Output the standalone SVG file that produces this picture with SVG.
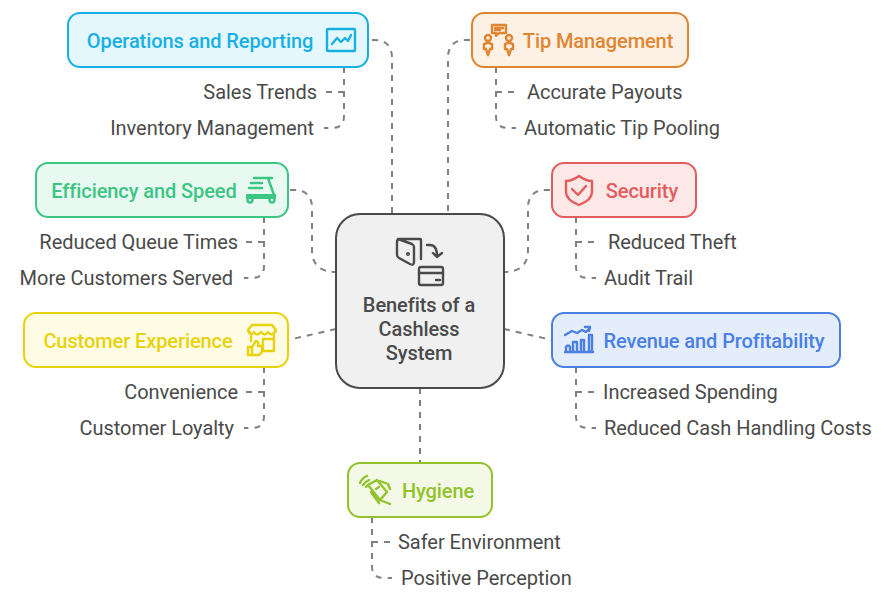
<svg xmlns="http://www.w3.org/2000/svg" width="888" height="601" viewBox="0 0 888 601">
<style>
text{font-family:Roboto,"Liberation Sans",sans-serif}
.n{stroke-width:2}
.t{font-size:20px;font-weight:500;text-anchor:middle;letter-spacing:-.09px}
.l{font-size:20px;fill:#4a4a4a;letter-spacing:-.04px}
.e{text-anchor:end}
.c{fill:none;stroke:#808080;stroke-width:2;stroke-dasharray:6 6}
.i{fill:none;stroke-width:2.400;stroke-linecap:round;stroke-linejoin:round}
</style>
<rect width="888" height="601" fill="#fff"/>
<g id="connectors">
<path class="c" d="M372 40H374Q392 40 392 58V214"/>
<path class="c" d="M470 40H466Q448 40 448 58V214"/>
<path class="c" d="M290 190H294Q312 190 312 208V250Q312 272 336 272"/>
<path class="c" d="M550 190H546Q528 190 528 208V250Q528 272 504 272"/>
<path class="c" d="M336 329L288 340"/>
<path class="c" d="M504 329L552 340"/>
<path class="c" d="M420 388V463"/>
<path class="c" d="M344 67V116Q344 128 332 128H324"/>
<path class="c" d="M344 92H326"/>
<path class="c" d="M264 217V266Q264 278 252 278H244"/>
<path class="c" d="M264 242H246"/>
<path class="c" d="M264 367V416Q264 428 252 428H244"/>
<path class="c" d="M264 392H246"/>
<path class="c" d="M496 67V116Q496 128 508 128H516"/>
<path class="c" d="M496 92H514"/>
<path class="c" d="M576 217V266Q576 278 588 278H596"/>
<path class="c" d="M576 242H598"/>
<path class="c" d="M576 367V416Q576 428 588 428H596"/>
<path class="c" d="M576 392H594"/>
<path class="c" d="M372 517V566Q372 578 384 578H392"/>
<path class="c" d="M372 542H390"/>
</g>
<g id="center">
<rect x="336" y="214" width="168" height="174" rx="24" fill="#f0f0f0" stroke="#4a4a4a" stroke-width="2"/>
<g class="i" stroke="#4a4a4a">
<path d="M421 259V240Q421 239 420 239H400Q397 239 397 242V255Q397 257 399 258L410 264Q414 266 414 262V247Q414 245 412 244L398 239"/>
<circle cx="408" cy="254" r=".8" fill="#4a4a4a"/>
<path d="M427 245H430Q437 245 437 256M433 253L437 257L442 253"/>
<rect x="419" y="267" width="24" height="18" rx="2"/>
<path d="M419 273H443M436 280H440"/>
</g>
<text class="t" fill="#4a4a4a"><tspan x="419" y="312">Benefits of a</tspan><tspan x="419" y="336">Cashless</tspan><tspan x="419" y="360">System</tspan></text>
</g>
<g id="operations">
<rect class="n" x="68" y="13" width="300" height="54" rx="12" fill="#e3f7fd" stroke="#18b0e4"/>
<text class="t" x="200" y="48" fill="#18b0e4">Operations and Reporting</text>
<g class="i" stroke="#18b0e4"><rect x="327" y="29" width="28" height="22" rx="1"/><path d="M332 44L337 38L341 42L345 38L348 41L351 35"/></g>
<text class="l e" x="317" y="99">Sales Trends</text>
<text class="l e" x="314" y="135">Inventory Management</text>
</g>
<g id="efficiency">
<rect class="n" x="36" y="163" width="252" height="54" rx="12" fill="#e8f9f1" stroke="#3cc583"/>
<text class="t" x="144" y="198" fill="#3cc583">Efficiency and Speed</text>
<g class="i" stroke="#3cc583"><path d="M263 178H272M268 178L274 195M254 178H262M251 183H262M249 188H262M248 196H274"/><path d="M247 195H275V198H247Z" stroke-width="2"/><circle cx="250" cy="200" r="2.500"/><circle cx="272" cy="200" r="2.500"/></g>
<text class="l e" x="238" y="249">Reduced Queue Times</text>
<text class="l e" x="233" y="285">More Customers Served</text>
</g>
<g id="customer">
<rect class="n" x="24" y="313" width="264" height="54" rx="12" fill="#fefce4" stroke="#e8d20c"/>
<text class="t" x="138" y="348" fill="#e8d20c">Customer Experience</text>
<g class="i" stroke="#e8d20c"><path d="M250 333L248 330L252 325H272L276 330L274 333M248 331Q251 337 254 332Q257 337 261 332Q265 337 268 332Q271 337 276 331M251 336V341M274 335V351H263V339H273M248 347H252V355H248ZM252 347L256 341Q259 341 258 346H262V352L259 355H252"/></g>
<text class="l e" x="238" y="399">Convenience</text>
<text class="l e" x="234" y="435">Customer Loyalty</text>
</g>
<g id="tip">
<rect class="n" x="472" y="13" width="216" height="54" rx="12" fill="#fdf1e6" stroke="#e08530"/>
<text class="t" x="598" y="48" fill="#e08530">Tip Management</text>
<g class="i" stroke="#e08530"><path d="M492 25H506V33H499L496 36V33H492ZM495 28H503M495 30H500"/><circle cx="488" cy="38" r="3"/><circle cx="509" cy="38" r="3"/><path d="M484 44Q488 42 492 44V49H490L488 55L486 49H484ZM505 44Q509 42 513 44V49H511L509 55L507 49H505Z"/></g>
<text class="l" x="527" y="99">Accurate Payouts</text>
<text class="l" x="524" y="135">Automatic Tip Pooling</text>
</g>
<g id="security">
<rect class="n" x="552" y="163" width="144" height="54" rx="12" fill="#fde8e8" stroke="#e45c5c"/>
<text class="t" x="642" y="198" fill="#e45c5c">Security</text>
<g class="i" stroke="#e45c5c"><path d="M566 181Q572 181 579 176Q586 181 592 181V192Q592 200 579 205Q566 200 566 192Z"/><path d="M572 189L578 195L586 186"/></g>
<text class="l" x="608" y="249">Reduced Theft</text>
<text class="l" x="604" y="285">Audit Trail</text>
</g>
<g id="revenue">
<rect class="n" x="552" y="313" width="288" height="54" rx="12" fill="#e4edfc" stroke="#4a80e4"/>
<text class="t" x="714" y="348" fill="#4a80e4">Revenue and Profitability</text>
<g class="i" stroke="#4a80e4"><path d="M565 335L572 331L577 333L582 330L586 332L590 328M585 327L590 327L589 331M565 352H593M566 352V347Q568 344 570 347V352M573 352V342H577V352M581 352V340H584V352M589 352V335H592V352"/></g>
<text class="l" x="603" y="399">Increased Spending</text>
<text class="l" x="604" y="435">Reduced Cash Handling Costs</text>
</g>
<g id="hygiene">
<rect class="n" x="348" y="463" width="144" height="54" rx="12" fill="#f3f9e6" stroke="#92c22c"/>
<text class="t" x="438" y="498" fill="#92c22c">Hygiene</text>
<g class="i" stroke="#92c22c"><path d="M368 485L377 480L387 492L380 500ZM380 481L388 484L390 489M380 500L390 504M371 492L379 503M376 489L379 487M360 483Q362 478 367 476M363 485Q365 482 369 480M366 487L368 485"/></g>
<text class="l" x="398" y="549">Safer Environment</text>
<text class="l" x="401" y="585">Positive Perception</text>
</g>
</svg>
